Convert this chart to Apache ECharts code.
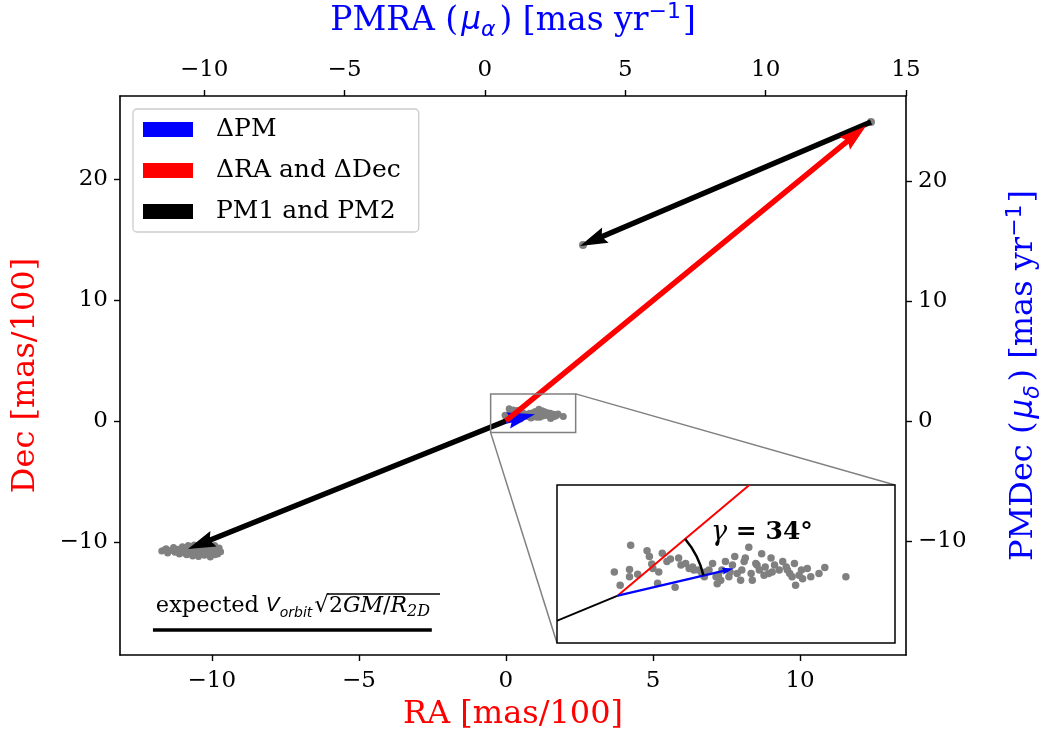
<!DOCTYPE html>
<html>
<head>
<meta charset="utf-8">
<script src="https://cdn.jsdelivr.net/npm/echarts@6/dist/echarts.min.js"></script>
<style>
  html, body { margin: 0; padding: 0; background: #fff; }
  #main { width: 1047px; height: 736px; }
</style>
</head>
<body>
<div id="main"></div>
<script>
// tick values
var raTicks = [-10, -5, 0, 5, 10];
var decTicks = [-10, 0, 10, 20];
var pmraTicks = [-10, -5, 0, 5, 10, 15];
var pmdecTicks = [-10, 0, 10, 20];

// axis ranges
var raRange = [-13.12, 13.6];
var decRange = [-19.34, 26.86];
var pmraRange = [-13, 15];
var pmdecRange = [-19.5, 27.1];
var zoomX = [-0.52, 2.37];
var zoomY = [-0.96, 2.24];

// stars at present position (RA, Dec)
var clusterNow = [
  [0.11, 1.02], [-0.03, 0.48], [0.02, 0.21], [0.10, 0.53], [0.10, 0.38], [0.17, 0.43],
  [0.25, 0.91], [0.27, 0.79], [0.29, 0.64], [0.30, 0.55], [0.35, 0.48], [0.34, 0.25],
  [0.38, 0.86], [0.42, 0.69], [0.45, 0.74], [0.49, 0.17], [0.52, 0.76], [0.54, 0.62],
  [0.58, 0.65], [0.61, 0.55], [0.64, 0.58], [0.69, 0.52], [0.72, 0.45], [0.74, 0.38],
  [0.78, 0.52], [0.81, 0.65], [0.84, 0.38], [0.85, 0.24], [0.86, 0.41], [0.89, 0.52],
  [0.92, 0.69], [0.95, 0.38], [0.98, 0.62], [1.00, 0.79], [1.02, 0.45], [1.05, 0.31],
  [1.08, 0.69], [1.09, 0.76], [1.12, 0.98], [1.15, 0.31], [1.18, 0.65], [1.21, 0.52],
  [1.23, 0.85], [1.26, 0.58], [1.29, 0.45], [1.31, 0.76], [1.34, 0.62], [1.38, 0.52],
  [1.41, 0.69], [1.44, 0.58], [1.47, 0.45], [1.49, 0.38], [1.51, 0.65], [1.52, 0.21],
  [1.55, 0.41], [1.58, 0.34], [1.62, 0.55], [1.65, 0.38], [1.72, 0.45], [1.77, 0.57],
  [1.95, 0.38], [0.65, 0.52], [0.75, 0.48], [0.88, 0.31], [0.96, 0.48], [1.06, 0.52],
  [1.14, 0.45], [1.19, 0.62], [1.25, 0.41], [1.32, 0.48], [1.45, 0.52], [1.57, 0.52]
];
// stars moved back along PM2
var clusterOld = [
  [-11.70, -10.75], [-11.60, -10.65], [-11.55, -10.55], [-11.50, -10.90], [-11.40, -10.70],
  [-11.30, -10.45], [-11.25, -10.85], [-11.15, -10.60], [-11.10, -11.00], [-11.00, -10.40],
  [-10.95, -10.75], [-10.90, -10.55], [-10.90, -10.95], [-10.85, -11.05], [-10.80, -10.30],
  [-10.75, -10.80], [-10.70, -10.60], [-10.65, -11.15], [-10.60, -10.45], [-10.60, -10.25],
  [-10.55, -10.90], [-10.50, -10.70], [-10.45, -11.20], [-10.40, -10.35], [-10.40, -11.00],
  [-10.35, -10.80], [-10.30, -10.55], [-10.25, -11.10], [-10.20, -10.40], [-10.15, -10.90],
  [-10.10, -10.65], [-10.05, -11.25], [-10.00, -10.50], [-9.95, -10.85], [-9.90, -10.30],
  [-9.90, -11.05], [-9.85, -10.70], [-9.80, -11.00], [-9.75, -10.50], [-9.70, -10.80]
];
var singleStars = [[12.41, 24.71], [2.62, 14.55]];

// vectors [x0, y0, x1, y1]
var dPM = [[0, 0, 0.99, 0.55]];
var dRaDec = [[0, 0, 12.24, 24.38]];
var pm12 = [[12.41, 24.71, 2.52, 14.47], [0, 0, -10.81, -10.58]];

// expected orbital velocity bar
var orbitBar = [[-12.0, -17.27], [-2.52, -17.27]];
var gammaDeg = 34;

var SERIF = 'DejaVu Serif';
var RED = '#ff0000', BLUE = '#0000ff', GRAY = '#808080';
var insetBox = { left: 557, top: 485, width: 338, height: 158 };

function minusFmt(v) {
  return v < 0 ? '\u2212' + (-v) : String(v);
}

function arrowItem(w, color, head, clip) {
  return function (params, api) {
    var a = api.coord([api.value(0), api.value(1)]);
    var b = api.coord([api.value(2), api.value(3)]);
    var dx = b[0] - a[0], dy = b[1] - a[1];
    var L = Math.sqrt(dx * dx + dy * dy);
    var ux = dx / L, uy = dy / L, nx = -uy, ny = ux;
    function pt(s, t) { return [a[0] + ux * s + nx * t, a[1] + uy * s + ny * t]; }
    var pts;
    if (head) {
      // quiver-like head: length 5w, axis length 4.5w, width 3w
      pts = [pt(0, -w / 2), pt(L - 4.5 * w, -w / 2), pt(L - 5 * w, -1.5 * w), pt(L, 0),
             pt(L - 5 * w, 1.5 * w), pt(L - 4.5 * w, w / 2), pt(0, w / 2)];
    } else {
      pts = [pt(0, -w / 2), pt(L, -w / 2), pt(L, w / 2), pt(0, w / 2)];
    }
    var el = { type: 'polygon', shape: { points: pts }, style: { fill: color } };
    if (clip) {
      var cs = params.coordSys;
      el.clipPath = { type: 'rect', shape: { x: cs.x, y: cs.y, width: cs.width, height: cs.height } };
    }
    return el;
  };
}

function axisCommon(ticks, margin) {
  return {
    type: 'value',
    splitLine: { show: false },
    axisLine: { show: true, onZero: false, lineStyle: { color: '#000', width: 1.6 } },
    axisTick: { show: true, length: 6, customValues: ticks, lineStyle: { color: '#000', width: 1.4 } },
    axisLabel: {
      customValues: ticks, formatter: minusFmt, color: '#000',
      fontFamily: SERIF, fontSize: 23, margin: margin
    }
  };
}

var pmRich = {
  i: { color: BLUE, fontFamily: 'DejaVu Sans', fontStyle: 'italic', fontSize: 31, padding: [0, 0, 0, 3] },
  sub: { color: BLUE, fontFamily: 'DejaVu Sans', fontStyle: 'italic', fontSize: 22, verticalAlign: 'bottom', lineHeight: 24, padding: [0, 4, 0, 0] },
  sup: { color: BLUE, fontFamily: 'DejaVu Sans', fontSize: 22, verticalAlign: 'top', lineHeight: 24, padding: [0, 2, 0, 0] }
};

var chart = echarts.init(document.getElementById('main'));

var xBottom = axisCommon(raTicks, 15);
Object.assign(xBottom, {
  gridIndex: 0, position: 'bottom', min: raRange[0], max: raRange[1],
  name: 'RA [mas/100]', nameLocation: 'middle', nameGap: 44,
  nameTextStyle: { color: RED, fontFamily: SERIF, fontSize: 32 }
});
var xTop = axisCommon(pmraTicks, 14);
Object.assign(xTop, {
  gridIndex: 0, position: 'top', min: pmraRange[0], max: pmraRange[1],
  name: 'PMRA ({i|\u03bc}{sub|\u03b1}) [mas yr{sup|\u22121}]', nameLocation: 'middle', nameGap: 55,
  nameTextStyle: { color: BLUE, fontFamily: SERIF, fontSize: 33, lineHeight: 40, rich: pmRich }
});
var yLeft = axisCommon(decTicks, 12);
Object.assign(yLeft, {
  gridIndex: 0, position: 'left', min: decRange[0], max: decRange[1],
  name: 'Dec [mas/100]', nameLocation: 'middle', nameGap: 78, nameRotate: 90,
  nameTextStyle: { color: RED, fontFamily: SERIF, fontSize: 32 }
});
var yRight = axisCommon(pmdecTicks, 12);
Object.assign(yRight, {
  gridIndex: 0, position: 'right', min: pmdecRange[0], max: pmdecRange[1],
  name: 'PMDec ({i|\u03bc}{sub|\u03b4}) [mas yr{sup|\u22121}]', nameLocation: 'middle', nameGap: 98, nameRotate: 90,
  nameTextStyle: { color: BLUE, fontFamily: SERIF, fontSize: 32, lineHeight: 40, rich: pmRich }
});

var insetAxisX = { type: 'value', gridIndex: 1, min: zoomX[0], max: zoomX[1], show: false };
var insetAxisY = { type: 'value', gridIndex: 1, min: zoomY[0], max: zoomY[1], show: false };

var option = {
  animation: false,
  backgroundColor: '#fff',
  grid: [
    { left: 120, right: 141, top: 96, bottom: 81, outerBoundsMode: 'none', containLabel: false },
    { left: insetBox.left, top: insetBox.top, width: insetBox.width, height: insetBox.height,
      outerBoundsMode: 'none', show: true, borderColor: '#000', borderWidth: 1.5, backgroundColor: '#fff', z: 3 }
  ],
  xAxis: [xBottom, xTop, insetAxisX],
  yAxis: [yLeft, yRight, insetAxisY],
  legend: {
    left: 133, top: 109, orient: 'vertical', selectedMode: false,
    itemWidth: 50, itemHeight: 15, itemGap: 16,
    padding: [8, 18, 8, 10],
    borderColor: '#cccccc', borderWidth: 1.3, borderRadius: 4,
    backgroundColor: 'rgba(255,255,255,0.8)',
    textStyle: { fontFamily: SERIF, fontSize: 25, color: '#000', lineHeight: 25, padding: [0, 0, 0, 18] },
    data: [
      { name: '\u0394PM', icon: 'rect', itemStyle: { color: BLUE } },
      { name: '\u0394RA and \u0394Dec', icon: 'rect', itemStyle: { color: RED } },
      { name: 'PM1 and PM2', icon: 'rect', itemStyle: { color: '#000' } }
    ]
  },
  series: [
    { type: 'scatter', name: 'now', xAxisIndex: 0, yAxisIndex: 0, data: clusterNow,
      symbolSize: 7, itemStyle: { color: GRAY, opacity: 1 }, z: 1 },
    { type: 'scatter', name: 'old', xAxisIndex: 0, yAxisIndex: 0, data: clusterOld,
      symbolSize: 7, itemStyle: { color: GRAY, opacity: 1 }, z: 1 },
    { type: 'scatter', name: 'single', xAxisIndex: 0, yAxisIndex: 0, data: singleStars,
      symbolSize: 8, itemStyle: { color: GRAY, opacity: 1 }, z: 1 },
    { type: 'custom', name: 'PM1 and PM2', xAxisIndex: 0, yAxisIndex: 0, data: pm12,
      encode: { x: [0, 2], y: [1, 3] }, itemStyle: { color: '#000' },
      renderItem: arrowItem(5.5, '#000', true, false), z: 2 },
    { type: 'custom', name: '\u0394PM', xAxisIndex: 0, yAxisIndex: 0, data: dPM,
      encode: { x: [0, 2], y: [1, 3] }, itemStyle: { color: BLUE },
      renderItem: arrowItem(5.5, BLUE, true, false), z: 3 },
    { type: 'custom', name: '\u0394RA and \u0394Dec', xAxisIndex: 0, yAxisIndex: 0, data: dRaDec,
      encode: { x: [0, 2], y: [1, 3] }, itemStyle: { color: RED },
      renderItem: arrowItem(5.5, RED, true, false), z: 4 },
    { type: 'custom', name: 'zoombox', xAxisIndex: 0, yAxisIndex: 0,
      data: [[zoomX[0], zoomY[0], zoomX[1], zoomY[1]]], encode: { x: [0, 2], y: [1, 3] },
      renderItem: function (params, api) {
        var a = api.coord([api.value(0), api.value(1)]);
        var b = api.coord([api.value(2), api.value(3)]);
        return { type: 'rect', shape: { x: a[0], y: b[1], width: b[0] - a[0], height: a[1] - b[1] },
          style: { fill: null, stroke: GRAY, lineWidth: 1.5 } };
      }, z: 5 },
    { type: 'line', name: 'orbit', xAxisIndex: 0, yAxisIndex: 0, data: orbitBar,
      symbol: 'none', lineStyle: { color: '#000', width: 3.5 }, z: 2 },

    // inset
    { type: 'scatter', name: 'now zoom', xAxisIndex: 2, yAxisIndex: 2, data: clusterNow,
      symbolSize: 7.5, itemStyle: { color: GRAY, opacity: 1 }, z: 6 },
    { type: 'custom', name: 'pm zoom', xAxisIndex: 2, yAxisIndex: 2, data: pm12,
      encode: { x: [0, 2], y: [1, 3] }, renderItem: arrowItem(2, '#000', false, true), z: 7 },
    { type: 'custom', name: 'radec zoom', xAxisIndex: 2, yAxisIndex: 2, data: dRaDec,
      encode: { x: [0, 2], y: [1, 3] }, renderItem: arrowItem(2, RED, true, true), z: 7 },
    { type: 'custom', name: 'dpm zoom', xAxisIndex: 2, yAxisIndex: 2, data: dPM,
      encode: { x: [0, 2], y: [1, 3] }, renderItem: arrowItem(2.3, BLUE, true, true), z: 8 },
    { type: 'custom', name: 'angle', xAxisIndex: 2, yAxisIndex: 2, data: [[0, 0]],
      renderItem: function (params, api) {
        var o = api.coord([api.value(0), api.value(1)]);
        var r = api.coord([dRaDec[0][2], dRaDec[0][3]]);
        var b = api.coord([dPM[0][2], dPM[0][3]]);
        var a1 = Math.atan2(r[1] - o[1], r[0] - o[0]);
        var a2 = Math.atan2(b[1] - o[1], b[0] - o[0]);
        return { type: 'arc', shape: { cx: o[0], cy: o[1], r: 88, startAngle: a1, endAngle: a2, clockwise: true },
          style: { fill: null, stroke: '#000', lineWidth: 2.5 } };
      }, z: 8 }
  ]
};

chart.setOption(option);

// zoom connectors, labels
var pTR = chart.convertToPixel({ xAxisIndex: 0, yAxisIndex: 0 }, [zoomX[1], zoomY[1]]);
var pBL = chart.convertToPixel({ xAxisIndex: 0, yAxisIndex: 0 }, [zoomX[0], zoomY[0]]);
var rootX = 329;
chart.setOption({
  graphic: [
    { type: 'line', z: 1, shape: { x1: pTR[0], y1: pTR[1], x2: insetBox.left + insetBox.width, y2: insetBox.top },
      style: { stroke: GRAY, lineWidth: 1.5 } },
    { type: 'line', z: 1, shape: { x1: pBL[0], y1: pBL[1], x2: insetBox.left, y2: insetBox.top + insetBox.height },
      style: { stroke: GRAY, lineWidth: 1.5 } },
    { type: 'text', z: 20, left: 711, top: 519,
      style: {
        text: '{g|\u03b3} = ' + gammaDeg + '\u00b0',
        fontFamily: SERIF, fontWeight: 'bold', fontSize: 25, fill: '#000',
        rich: { g: { fontFamily: SERIF, fontStyle: 'italic', fontSize: 27, fill: '#000' } }
      } },
    { type: 'text', z: 20, right: 1047 - rootX, top: 592,
      style: {
        text: 'expected {v|V}{o|orbit}{r|\u221a}',
        fontFamily: SERIF, fontSize: 22.5, fill: '#000', lineHeight: 28,
        rich: {
          v: { fontFamily: 'DejaVu Sans', fontStyle: 'italic', fontSize: 20, fill: '#000' },
          o: { fontFamily: 'DejaVu Sans', fontStyle: 'italic', fontSize: 14, fill: '#000', verticalAlign: 'bottom', lineHeight: 16 },
          r: { fontFamily: SERIF, fontSize: 23, fill: '#000', padding: [0, 0, 0, 2] }
        }
      } },
    { type: 'text', z: 20, left: rootX, top: 592,
      style: {
        text: '2{m|GM}/{m|R}{d|2D}',
        fontFamily: SERIF, fontSize: 22, fill: '#000', lineHeight: 28,
        rich: {
          m: { fontFamily: SERIF, fontStyle: 'italic', fontSize: 22, fill: '#000' },
          d: { fontFamily: SERIF, fontStyle: 'italic', fontSize: 16, fill: '#000', verticalAlign: 'bottom', lineHeight: 16 }
        }
      } },
    { type: 'line', z: 20, shape: { x1: rootX - 2, y1: 594, x2: 440, y2: 594 },
      style: { stroke: '#000', lineWidth: 1.3 } }
  ]
});
</script>
</body>
</html>
